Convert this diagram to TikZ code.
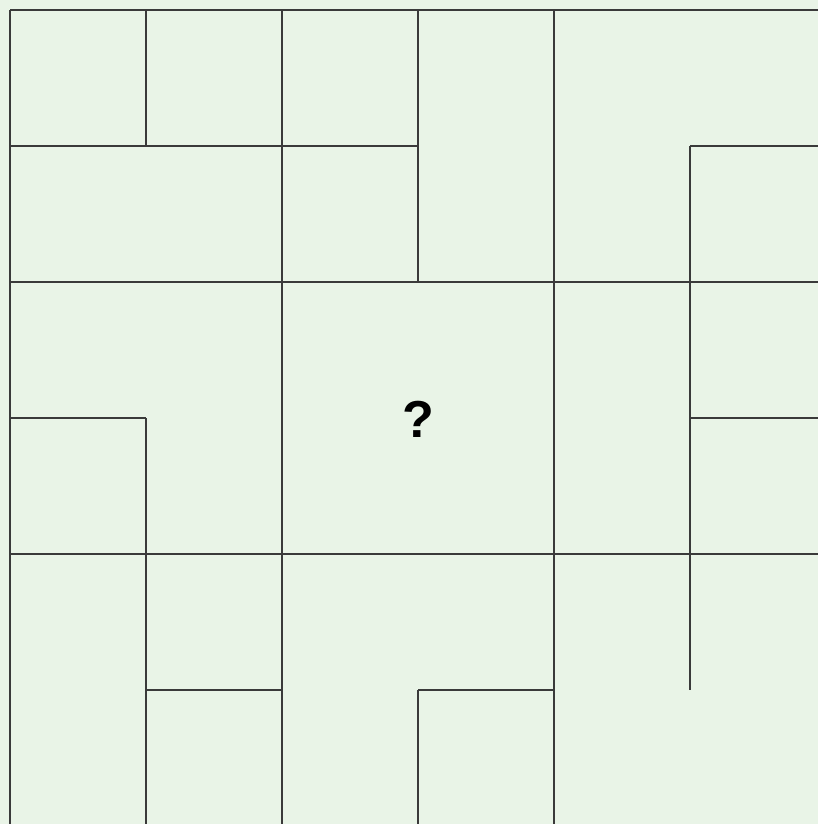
\documentclass[tikz,border=0pt]{standalone}
\usepackage{fontspec}
\setmainfont{Liberation Sans}
\definecolor{PaleMint}{HTML}{E9F4E7}
\definecolor{WallGrey}{HTML}{3A3A3A}

\begin{document}
\begin{tikzpicture}[
  x=1pt, y=-1pt,
  wall/.style={draw=WallGrey, line width=1.3pt},
  qmark/.style={font=\fontsize{52}{52}\selectfont\bfseries, text=black, inner sep=0pt}
]
  \fill[PaleMint] (0,0) rectangle (818,824);
  \useasboundingbox (0,0) rectangle (818,824);

  % horizontal walls: x from / y / x to
  \foreach \xa/\yy/\xb in {10/10/818, 10/146/418, 690/146/818, 10/282/818,
                           10/418/146, 690/418/818, 10/554/818,
                           146/690/282, 418/690/554}
    \draw[wall] (\xa,\yy) -- (\xb,\yy);

  % vertical walls: x / y from / y to
  \foreach \xx/\ya/\yb in {10/10/824, 146/10/146, 146/418/824, 282/10/824,
                           418/10/282, 418/690/824, 554/10/824, 690/146/690}
    \draw[wall] (\xx,\ya) -- (\xx,\yb);

  \node[qmark] (unknown) at (418,419) {?};
\end{tikzpicture}
\end{document}
